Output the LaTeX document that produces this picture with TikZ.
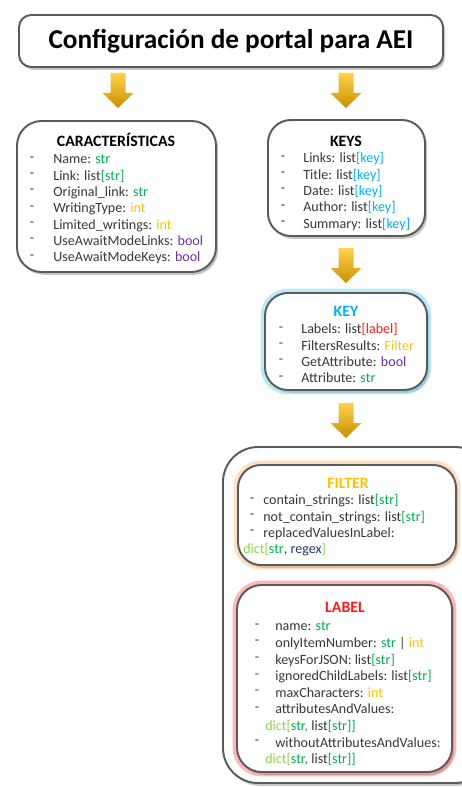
\documentclass[tikz,border=0pt]{standalone}
\usepackage{fontspec}
\setmainfont{Carlito}
\usetikzlibrary{shadows,fit}

\definecolor{framegray}{HTML}{5A5A5A}
\definecolor{bodytext}{HTML}{383838}
\definecolor{strgreen}{HTML}{00B050}
\definecolor{dictgreen}{HTML}{92D050}
\definecolor{intyellow}{HTML}{FFC000}
\definecolor{boolpurple}{HTML}{7030A0}
\definecolor{keyblue}{HTML}{00B0F0}
\definecolor{labelred}{HTML}{FF1A1A}
\definecolor{regexblue}{HTML}{203864}
\definecolor{arrowtop}{HTML}{FFD24A}
\definecolor{arrowbot}{HTML}{C98F00}

\newcommand\tyg[1]{\textcolor{strgreen}{#1}}
\newcommand\tyl[1]{\textcolor{dictgreen}{#1}}
\newcommand\tyy[1]{\textcolor{intyellow}{#1}}
\newcommand\typ[1]{\textcolor{boolpurple}{#1}}
\newcommand\tyb[1]{\textcolor{keyblue}{#1}}
\newcommand\tyr[1]{\textcolor{labelred}{#1}}
\newcommand\tyd[1]{\textcolor{regexblue}{#1}}

\tikzset{
  panel/.style={draw=framegray, line width=1.1pt, fill=white, rounded corners=10pt,
    inner sep=0pt, drop shadow={shadow xshift=1.2pt, shadow yshift=-1.6pt, opacity=.45}},
  glow/.style={preaction={draw=#1, line width=5pt, opacity=.45}},
  head/.style={font=\bfseries\fontsize{9}{10}\selectfont},
  bullet/.style={font=\fontsize{8}{9}\selectfont, text=bodytext, inner sep=0pt},
  item/.style={font=\fontsize{8}{9}\selectfont, text=bodytext, anchor=west, inner sep=0pt,
    text height=1.6ex, text depth=.45ex}
}

\begin{document}
\begin{tikzpicture}[x=0.02cm, y=-0.02cm]
    \fill[white] (0,0) rectangle (461,787);
    \useasboundingbox (0,0) rectangle (461,787);

    % title
    \node[panel, rounded corners=7pt, fit={(19,15) (443,67)}] (title) {};
    \node[font=\bfseries\fontsize{15.5}{18}\selectfont, text=black] (titletxt) at (231,41) {Configuración de portal para AEI};

    % arrows
    \foreach \ax/\ay [count=\a] in {118/73, 346/73, 346/248, 346/403} {
      \coordinate (arr\a) at (\ax,\ay);
      \shade[top color=arrowtop, bottom color=arrowbot]
        (\ax-7.5,\ay) -- (\ax+7.5,\ay) -- (\ax+7.5,\ay+20) -- (\ax+15.5,\ay+20)
        -- (\ax,\ay+35) -- (\ax-15.5,\ay+20) -- (\ax-7.5,\ay+20) -- cycle;
    }

    % caracteristicas
    \node[panel, rounded corners=14pt, fit={(17,121) (216,272)}] (caract) {};
    \node[head] (caracth) at (116,140) {CARACTERÍSTICAS};
    \foreach \t [count=\i from 0] in {{Name: \tyg{str}}, {Link: list\tyg{[str]}},
        {Original\_link: \tyg{str}}, {WritingType: \tyy{int}}, {Limited\_writings: \tyy{int}},
        {UseAwaitModeLinks: \typ{bool}}, {UseAwaitModeKeys: \typ{bool}}} {
      \node[bullet] (cd\i) at (32,159+16.3*\i) {-};
      \node[item] (ct\i) at (53,159+16.3*\i) {\t};
    }

    % keys
    \node[panel, rounded corners=13pt, fit={(268,120) (425,236)}] (keys) {};
    \node[head] (keysh) at (346,141) {KEYS};
    \foreach \t [count=\i from 0] in {Links, Title, Date, Author, Summary} {
      \node[bullet] (kd\i) at (283,158+16.3*\i) {-};
      \node[item] (kt\i) at (303,158+16.3*\i) {\t: list\tyb{[key]}};
    }

    % key
    \node[panel, glow=keyblue!60, rounded corners=13pt, fit={(265,293) (427,390)}] (key) {};
    \node[head, text=keyblue] (keyh) at (346,311) {KEY};
    \foreach \t [count=\i from 0] in {{Labels: list\tyr{[label]}}, {FiltersResults: \tyy{Filter}},
        {GetAttribute: \typ{bool}}, {Attribute: \tyg{str}}} {
      \node[bullet] (yd\i) at (281,329+16.3*\i) {-};
      \node[item] (yt\i) at (301,329+16.3*\i) {\t};
    }

    % filter and label
    \node[panel, rounded corners=20pt, fit={(223,447) (490,783)}] (holder) {};

    \node[panel, glow=orange!55, rounded corners=13pt, fit={(238,465) (456,565)}] (filter) {};
    \node[head, text=intyellow] (filterh) at (348,483) {FILTER};
    \foreach \t [count=\i from 0] in {{contain\_strings: list\tyg{[str]}},
        {not\_contain\_strings: list\tyg{[str]}}, {replacedValuesInLabel:}} {
      \node[bullet] (fd\i) at (252,500+16.3*\i) {-};
      \node[item] (ft\i) at (263,500+16.3*\i) {\t};
    }
    \node[item] (fcont) at (243,549) {\tyl{dict[}\tyg{str}, \tyd{regex}\tyl{]}};

    \node[panel, glow=labelred!70, rounded corners=14pt, fit={(237,585) (452,772)}] (label) {};
    \node[head, text=labelred] (labelh) at (345,607) {LABEL};
    \foreach \k/\t in {0/{name: \tyg{str}}, 1/{onlyItemNumber: \tyg{str} | \tyy{int}},
        2/{keysForJSON: list\tyg{[str]}}, 3/{ignoredChildLabels: list\tyg{[str]}},
        4/{maxCharacters: \tyy{int}}, 5/{attributesAndValues:}, 7/{withoutAttributesAndValues:}} {
      \node[bullet] (ld\k) at (257,626+16.6*\k) {-};
      \node[item] (lt\k) at (275,626+16.6*\k) {\t};
    }
    \node[item] (lcont1) at (265,626+16.6*6) {\tyl{dict[}\tyg{str,} list\tyg{[str]]}};
    \node[item] (lcont2) at (265,626+16.6*8) {\tyl{dict[}\tyg{str,} list\tyg{[str]]}};
\end{tikzpicture}
\end{document}
